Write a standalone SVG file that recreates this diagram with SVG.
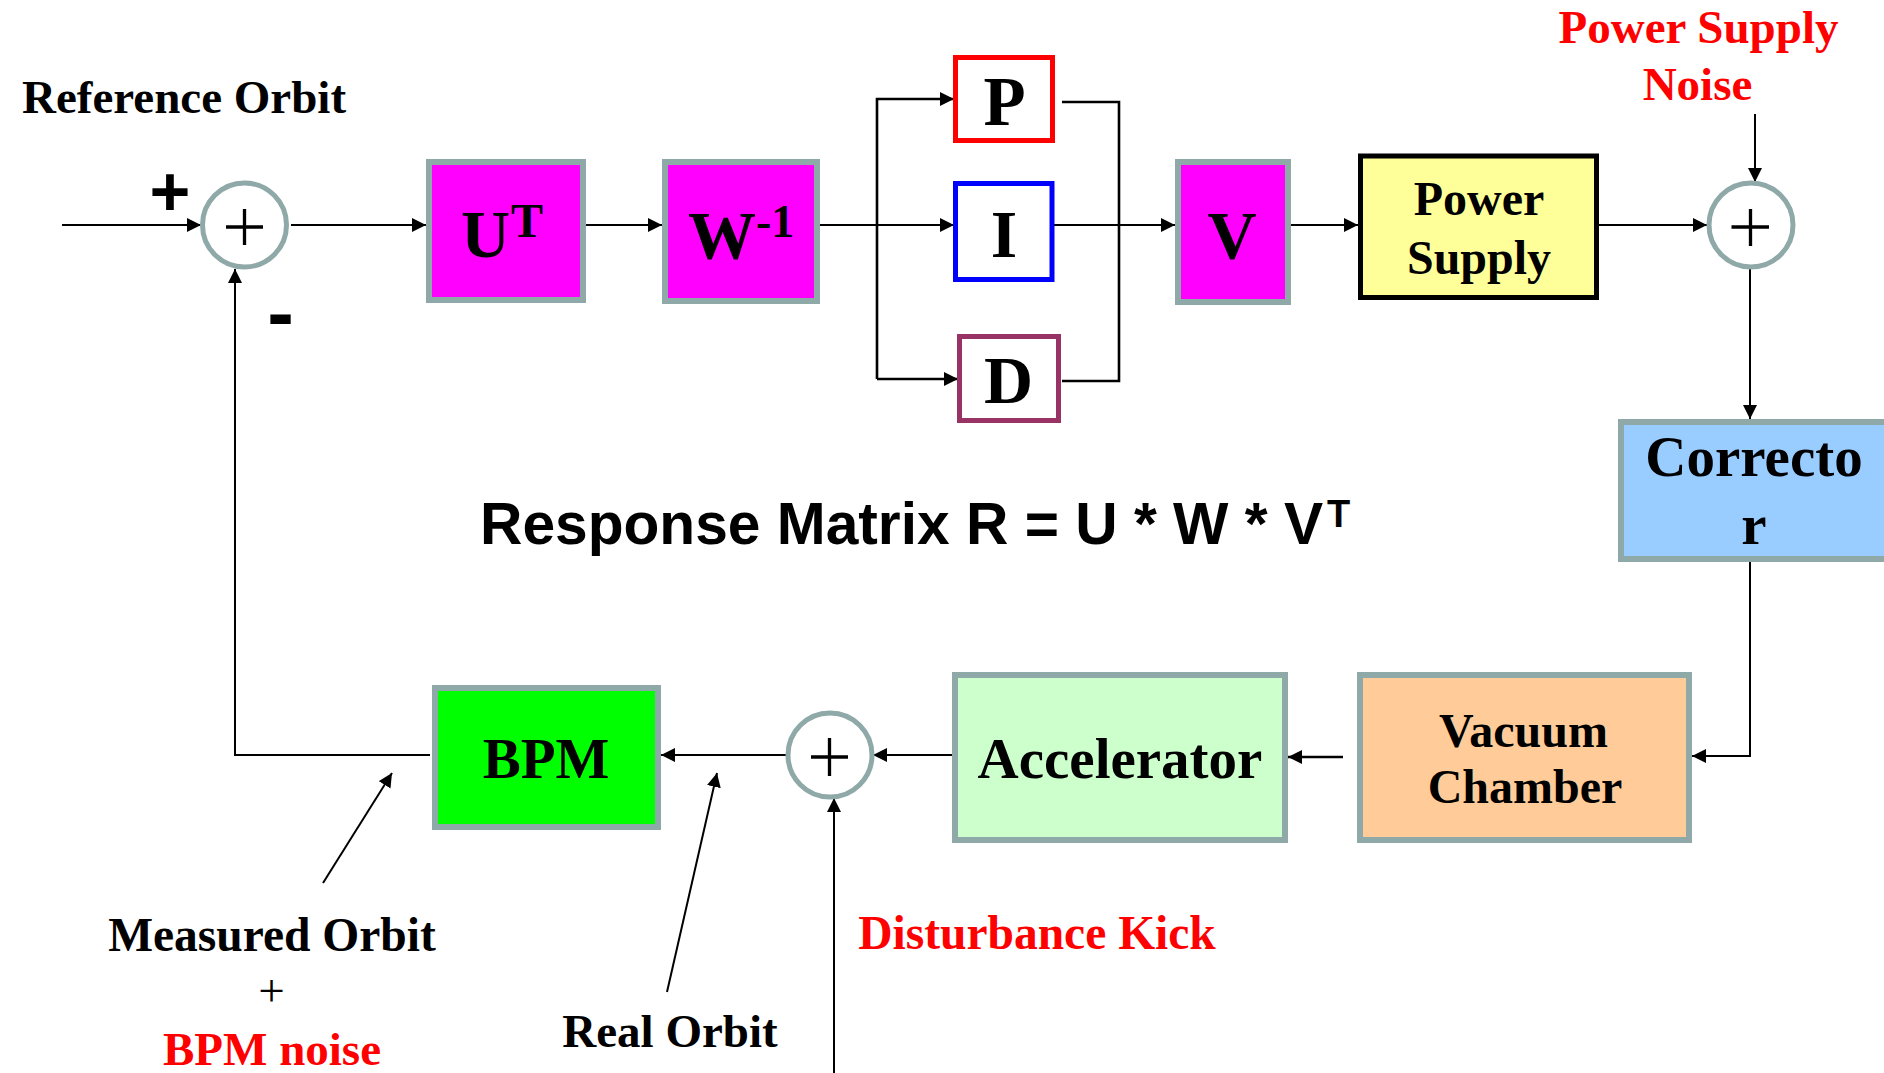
<svg xmlns="http://www.w3.org/2000/svg" width="1884" height="1073" viewBox="0 0 1884 1073">
<defs>
<marker id="ah" viewBox="0 0 14 14" refX="14" refY="7" markerWidth="14" markerHeight="14" markerUnits="userSpaceOnUse" orient="auto">
<path d="M0,0 L14,7 L0,14 z" fill="#000"/>
</marker>
<style>
.blk{stroke:#8FA8A8;stroke-width:6}
.t{font-family:"Liberation Serif","Times New Roman",serif;font-weight:bold;fill:#000}
.red{fill:#FF0000}
.a{font-family:"Liberation Sans",Arial,sans-serif;font-weight:bold;fill:#000}
.sum{fill:#fff;stroke:#8FA8A8;stroke-width:5}
.plus{stroke:#000;stroke-width:3.3;fill:none}
.c{stroke:#000;stroke-width:2;fill:none}
.c3{stroke:#000;stroke-width:2.6;fill:none}
</style>
</defs>
<rect width="1884" height="1073" fill="#fff"/>

<g id="connectors">
<path class="c" d="M62,225 H201" marker-end="url(#ah)"/>
<path class="c" d="M291,225 H426" marker-end="url(#ah)"/>
<path class="c" d="M586,225 H662" marker-end="url(#ah)"/>
<path class="c" d="M820,225 H954" marker-end="url(#ah)"/>
<path class="c3" d="M877,379 V99 H954" marker-end="url(#ah)"/>
<path class="c3" d="M877,379 H958" marker-end="url(#ah)"/>
<path class="c3" d="M1062,102 H1119 V381 H1062"/>
<path class="c" d="M1054,225 H1175" marker-end="url(#ah)"/>
<path class="c" d="M1291,225 H1358" marker-end="url(#ah)"/>
<path class="c" d="M1599,225 H1707" marker-end="url(#ah)"/>
<path class="c" d="M1755,114 V182" marker-end="url(#ah)"/>
<path class="c" d="M1750,269 V419" marker-end="url(#ah)"/>
<path class="c" d="M1750,562 V756 H1692" marker-end="url(#ah)"/>
<path class="c3" d="M1343,757 H1288" marker-end="url(#ah)"/>
<path class="c" d="M952,755 H873" marker-end="url(#ah)"/>
<path class="c" d="M834,1073 V798" marker-end="url(#ah)"/>
<path class="c" d="M786,755 H661" marker-end="url(#ah)"/>
<path class="c" d="M430,755 H235 V269" marker-end="url(#ah)"/>
<path class="c" d="M323,883 L392,773" marker-end="url(#ah)"/>
<path class="c" d="M667,992 L717,773" marker-end="url(#ah)"/>
</g>

<g id="sum1">
<circle class="sum" cx="244.5" cy="225" r="42"/>
<path class="plus" d="M226,227 H263 M244.5,209 V245"/>
</g>
<g id="sum2">
<circle class="sum" cx="1751" cy="225" r="42"/>
<path class="plus" d="M1731.5,227 H1769 M1750.5,209 V246"/>
</g>
<g id="sum3">
<circle class="sum" cx="830" cy="755" r="42"/>
<path class="plus" d="M811,757 H848 M829.5,738 V776"/>
</g>

<g id="label-ref">
<text class="t" x="22" y="113" font-size="47">Reference Orbit</text>
<text class="a" x="170" y="216" font-size="70" text-anchor="middle">+</text>
<text class="a" x="280.5" y="340" font-size="80" text-anchor="middle">-</text>
</g>

<g id="node-UT">
<rect class="blk" x="429" y="162" width="154" height="138" fill="#FF00FF"/>
<text class="t" x="510" y="257" font-size="68" text-anchor="end">U</text>
<text class="t" x="511" y="237" font-size="48">T</text>
</g>
<g id="node-W">
<rect class="blk" x="665" y="162" width="152" height="139" fill="#FF00FF"/>
<text class="t" x="722" y="258" font-size="68" text-anchor="middle">W</text>
<text class="t" x="756" y="237" font-size="46">-1</text>
</g>
<g id="node-P">
<rect x="955.5" y="57.5" width="97" height="83" fill="#fff" stroke="#FF0000" stroke-width="5"/>
<text class="t" x="1004.5" y="125" font-size="69" text-anchor="middle">P</text>
</g>
<g id="node-I">
<rect x="955.5" y="183.5" width="96.5" height="96" fill="#fff" stroke="#0000FF" stroke-width="5"/>
<text class="t" x="1004" y="257" font-size="68" text-anchor="middle">I</text>
</g>
<g id="node-D">
<rect x="959.5" y="336.5" width="99" height="84" fill="#fff" stroke="#993366" stroke-width="5"/>
<text class="t" x="1008.5" y="403" font-size="68" text-anchor="middle">D</text>
</g>
<g id="node-V">
<rect class="blk" x="1178" y="162" width="110" height="140" fill="#FF00FF"/>
<text class="t" x="1232" y="258" font-size="68" text-anchor="middle">V</text>
</g>
<g id="node-PS">
<rect x="1360.5" y="156" width="236" height="141.5" fill="#FFFF99" stroke="#000" stroke-width="5"/>
<text class="t" x="1479" y="214.5" font-size="48" text-anchor="middle">Power</text>
<text class="t" x="1479" y="274" font-size="48" text-anchor="middle">Supply</text>
</g>
<g id="label-psnoise">
<text class="t red" x="1698.5" y="42.5" font-size="47" text-anchor="middle">Power Supply</text>
<text class="t red" x="1697.5" y="100" font-size="47" text-anchor="middle">Noise</text>
</g>
<g id="node-corrector">
<rect class="blk" x="1621" y="422" width="300" height="137" fill="#99CCFF"/>
<text class="t" x="1754" y="475.5" font-size="57" text-anchor="middle">Correcto</text>
<text class="t" x="1754" y="544" font-size="57" text-anchor="middle">r</text>
</g>
<g id="label-response">
<text class="a" x="480" y="544" font-size="58.7">Response Matrix R = U * W * V</text>
<text class="a" x="1327" y="527" font-size="38">T</text>
</g>
<g id="node-VC">
<rect class="blk" x="1360" y="675" width="329" height="165" fill="#FFCC99"/>
<text class="t" x="1523.5" y="747" font-size="48" text-anchor="middle">Vacuum</text>
<text class="t" x="1525" y="803" font-size="48" text-anchor="middle">Chamber</text>
</g>
<g id="node-accel">
<rect class="blk" x="955" y="675" width="330" height="165" fill="#CCFFCC"/>
<text class="t" x="1120" y="778" font-size="57" text-anchor="middle">Accelerator</text>
</g>
<g id="node-BPM">
<rect class="blk" x="435" y="688" width="223" height="139" fill="#00FF00"/>
<text class="t" x="546" y="778" font-size="57" text-anchor="middle">BPM</text>
</g>
<g id="label-measured">
<text class="t" x="272" y="951" font-size="47.5" text-anchor="middle">Measured Orbit</text>
<text x="271.5" y="1006" font-size="47" text-anchor="middle" font-family="Liberation Serif, serif" fill="#000">+</text>
<text class="t red" x="272" y="1065" font-size="47" text-anchor="middle">BPM noise</text>
</g>
<g id="label-real">
<text class="t" x="670" y="1047" font-size="47" text-anchor="middle">Real Orbit</text>
</g>
<g id="label-disturbance">
<text class="t red" x="1037" y="949" font-size="47.5" text-anchor="middle">Disturbance Kick</text>
</g>
</svg>
